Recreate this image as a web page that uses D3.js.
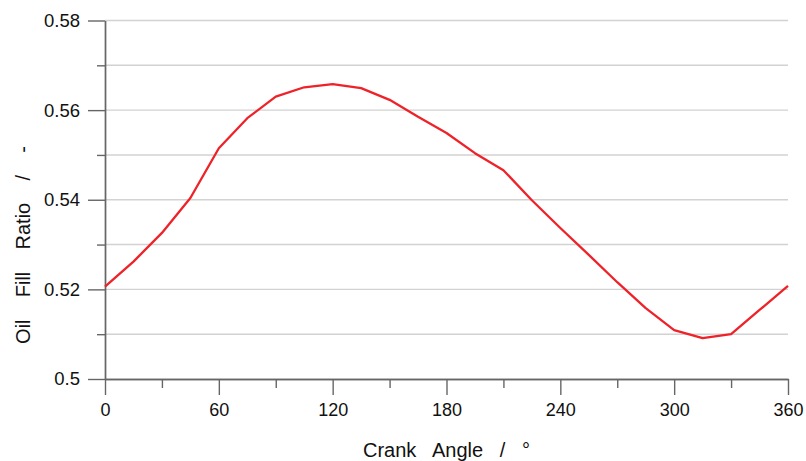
<!DOCTYPE html>
<html>
<head>
<meta charset="utf-8">
<script src="https://cdn.jsdelivr.net/npm/d3@7"></script>
<style>
  body { margin: 0; background: #fff; }
  text { font-family: "Liberation Sans", Arial, sans-serif; fill: #111; }
</style>
</head>
<body>
<script>
const width = 806;
const height = 461;
const margin = {top: 20.5, right: 18, bottom: 82, left: 105};

// crank angle (deg) and oil fill ratio
const angles = [0, 15, 30, 45, 60, 75, 90, 105, 120, 135, 150, 165, 180,
	195, 210, 225, 240, 255, 270, 285, 300, 315, 330, 345, 360];
const fillRatio = [0.5206, 0.5262, 0.5326, 0.5404, 0.5515, 0.5582, 0.5630, 0.5651, 0.5658,
	0.5649, 0.5623, 0.5585, 0.5549, 0.5504, 0.5466, 0.5399, 0.5337, 0.5277,
	0.5216, 0.5158, 0.5109, 0.5091, 0.5100, 0.5154, 0.5208];

const xMajor = [0, 60, 120, 180, 240, 300, 360];
const xMinor = [30, 90, 150, 210, 270, 330];
const yMajor = [0.5, 0.52, 0.54, 0.56, 0.58];
const yMinor = [0.51, 0.53, 0.55, 0.57];

const svg = d3.select("body")
	.append("svg")
	.attr("width", width)
	.attr("height", height);

const x = d3.scaleLinear().domain([0, 360]).range([margin.left, width - margin.right]);
const y = d3.scaleLinear().domain([0.5, 0.58]).range([height - margin.bottom, margin.top]);

// grid lines
svg.append("g")
	.selectAll("line")
	.data(yMajor.concat(yMinor).filter(d => d > 0.5))
	.enter()
	.append("line")
	.attr("x1", x(0))
	.attr("x2", x(360))
	.attr("y1", d => y(d))
	.attr("y2", d => y(d))
	.style("stroke", "#d2d2d2")
	.style("stroke-width", 1.4);

function styleAxis(g, size) {
	g.selectAll("path").style("stroke", "#666").style("stroke-width", 1.4);
	g.selectAll("line").style("stroke", "#666").style("stroke-width", 1.4);
	g.selectAll("text").style("font-size", size + "px").style("fill", "#111")
		.style("font-family", '"Liberation Sans", Arial, sans-serif');
}

// y axis
svg.append("g")
	.attr("transform", `translate(${margin.left},0)`)
	.call(d3.axisLeft(y).tickValues(yMinor).tickSize(8).tickSizeOuter(0).tickFormat(""))
	.call(styleAxis, 18.5);
svg.append("g")
	.attr("transform", `translate(${margin.left},0)`)
	.call(d3.axisLeft(y).tickValues(yMajor).tickSize(17).tickSizeOuter(0).tickPadding(8)
		.tickFormat(d => d === 0.5 ? "0.5" : d3.format(".2f")(d)))
	.call(styleAxis, 18.5);

// x axis
svg.append("g")
	.attr("transform", `translate(0,${height - margin.bottom})`)
	.call(d3.axisBottom(x).tickValues(xMinor).tickSize(9).tickSizeOuter(0).tickFormat(""))
	.call(styleAxis, 18);
svg.append("g")
	.attr("transform", `translate(0,${height - margin.bottom})`)
	.call(d3.axisBottom(x).tickValues(xMajor).tickSize(16).tickSizeOuter(0).tickPadding(8))
	.call(styleAxis, 18);

// curve
const line = d3.line()
	.x((d, i) => x(angles[i]))
	.y(d => y(d));

svg.append("path")
	.datum(fillRatio)
	.attr("d", line)
	.style("fill", "none")
	.style("stroke", "#ee2228")
	.style("stroke-width", 2.3)
	.style("stroke-linejoin", "round");

// axis titles
svg.append("text")
	.attr("x", x(180))
	.attr("y", 457)
	.attr("text-anchor", "middle")
	.attr("xml:space", "preserve")
	.style("font-size", "20px")
	.text("Crank   Angle   /   °");

svg.append("text")
	.attr("transform", "translate(30,245) rotate(-90)")
	.attr("text-anchor", "middle")
	.attr("xml:space", "preserve")
	.style("font-size", "20px")
	.text("Oil    Fill    Ratio    /    -");
</script>
</body>
</html>
